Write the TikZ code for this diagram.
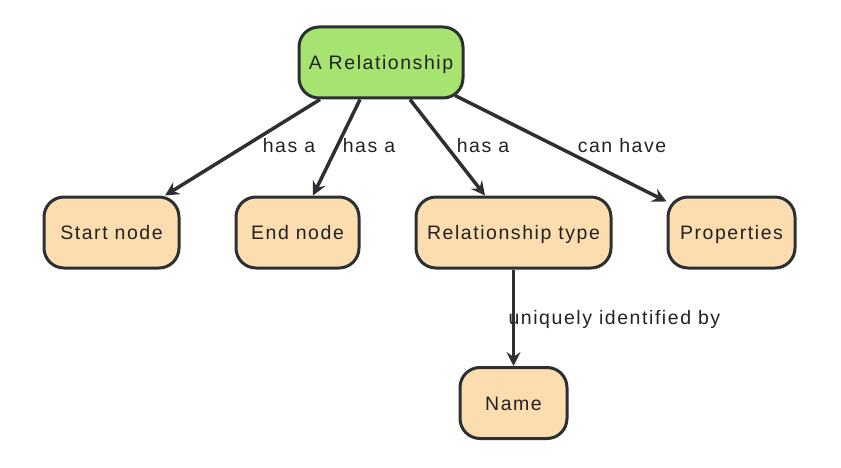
\documentclass[tikz,border=0pt]{standalone}
\usepackage{fontspec}
\setmainfont[LetterSpace=8]{Liberation Sans}
\usepackage{tikz}
\usetikzlibrary{arrows.meta, shapes}

\definecolor{relgreen}{HTML}{A6E370}
\definecolor{peach}{HTML}{FBDDAF}
\definecolor{edgedark}{HTML}{2C3033}
\definecolor{txtdark}{HTML}{222222}

\begin{document}
\begin{tikzpicture}[x=1pt, y=-1pt,
	box/.style={draw=edgedark, line width=3pt, rounded corners=20pt,
		minimum height=71pt, inner sep=0pt, text=txtdark,
		text height=16pt, text depth=2pt,
		font=\fontsize{19.5}{22}\selectfont},
	conn/.style={draw=edgedark, line width=3.5pt,
		-{Stealth[length=14pt, width=14pt, inset=5pt]}},
	lbl/.style={text=txtdark, text height=16pt, text depth=2pt,
		font=\fontsize{19.5}{22}\selectfont},
	]
	\useasboundingbox (0,0) rectangle (841,468);
	\node[box, fill=relgreen, minimum width=164pt] (rel) at (381, 62.5) {A Relationship};
	\node[box, fill=peach, minimum width=135pt] (start) at (111.5, 232.5) {Start node};
	\node[box, fill=peach, minimum width=123pt] (end) at (297.5, 232.5) {End node};
	\node[box, fill=peach, minimum width=195pt] (rtype) at (513.5, 232.5) {Relationship type};
	\node[box, fill=peach, minimum width=127pt] (props) at (731.5, 232.5) {Properties};
	\node[box, fill=peach, minimum width=107pt] (name) at (513.5, 403) {Name};
	% connectors
	\draw[conn] ([xshift=-61pt]rel.south) -- ([xshift=53.5pt]start.north);
	\draw[conn] ([xshift=-21pt]rel.south) -- ([xshift=15.5pt]end.north);
	\draw[conn] ([xshift=29pt]rel.south) -- ([xshift=-28.5pt]rtype.north);
	\draw[conn] ([xshift=74pt, yshift=4pt]rel.south) -- ([yshift=-6pt]props.north west);
	\draw[conn] (rtype.south) -- (name.north);
	% labels
	\node[lbl] (l1) at (289, 146) {has a};
	\node[lbl] (l2) at (369, 146) {has a};
	\node[lbl] (l3) at (483, 146) {has a};
	\node[lbl] (l4) at (622, 146) {can have};
	\node[lbl, anchor=west] (l5) at (505, 317) {uniquely identified by};
\end{tikzpicture}
\end{document}
